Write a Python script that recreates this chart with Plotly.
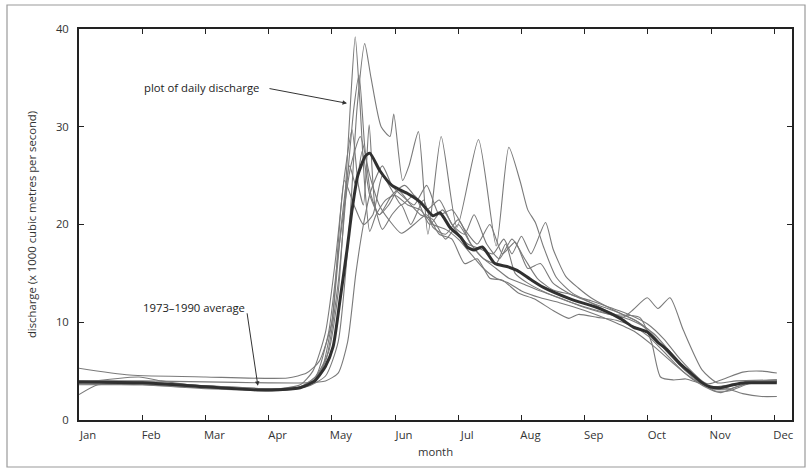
import plotly.graph_objects as go

# month axis: 0 = 1 Jan, 1 = 1 Feb, ... 11 = 1 Dec
month_labels = ["Jan", "Feb", "Mar", "Apr", "May", "Jun", "Jul", "Aug", "Sep", "Oct", "Nov", "Dec"]
month_ticks = [0, 1, 2, 3, 4, 5, 6, 7, 8, 9, 10, 11]
y_ticks = [0, 10, 20, 30, 40]

# individual years (discharge, x 1000 m3/s)
yr1_m = [0, 1, 2, 3, 3.5, 3.75, 3.95, 4.1, 4.22, 4.3, 4.37, 4.44, 4.52, 4.6, 4.7, 4.85, 5.0, 5.2, 5.4, 5.6, 5.8, 6.0, 6.2, 6.4, 6.6, 6.8, 7.0, 7.3, 7.6, 8.0, 8.4, 8.8, 9.1, 9.4, 9.7, 10.0, 10.3, 10.6, 11.04]
yr1_q = [3.7, 3.6, 3.2, 3.1, 3.4, 4.5, 7, 13, 24, 33, 39.2, 33, 24, 19.3, 21, 22.5, 23, 22, 21.5, 20, 19.5, 18.5, 17, 15.5, 14.5, 14, 13.2, 12.5, 12, 11.2, 10.2, 9, 7.5, 5.8, 4.2, 3.4, 3.6, 3.9, 4.0]

yr2_m = [0, 1, 2, 3, 3.6, 3.9, 4.1, 4.28, 4.4, 4.52, 4.62, 4.78, 4.92, 4.98, 5.12, 5.22, 5.37, 5.52, 5.73, 5.98, 6.32, 6.6, 6.8, 6.98, 7.1, 7.22, 7.35, 7.55, 7.8, 8.1, 8.4, 8.7, 9.0, 9.3, 9.7, 10.0, 10.3, 10.6, 11.04]
yr2_q = [4.0, 3.9, 3.5, 3.2, 3.4, 4.5, 8, 20, 32, 38.5, 35, 30, 29, 31.3, 24.5, 26, 29.5, 19, 29, 19.7, 28.7, 17.8, 27.9, 24.4, 21.5, 20.2, 17.7, 14.6, 13, 12, 11, 10.3, 9.3, 7, 4.5, 3.2, 3.2, 3.8, 4.0]

yr3_m = [0, 1, 2, 3, 3.5, 3.7, 3.9, 4.1, 4.25, 4.35, 4.43, 4.52, 4.62, 4.75, 4.9, 5.05, 5.25, 5.4, 5.6, 5.8, 6.0, 6.2, 6.4, 6.6, 6.75, 6.9, 7.1, 7.4, 7.8, 8.2, 8.6, 8.77, 8.99, 9.16, 9.35, 9.56, 9.86, 10.1, 10.4, 11.04]
yr3_q = [3.6, 3.6, 3.3, 3.0, 3.3, 4, 6, 14, 25, 32, 35.3, 28, 23, 21, 22, 23.5, 22, 21, 20.5, 18.5, 20, 18, 16.5, 16, 18, 15, 14, 13, 12, 11.2, 10.5, 11.3, 12.5, 11.4, 12.5, 9.2, 5.1, 3.8, 4.0, 4.1]

yr4_m = [0, 0.3, 1, 2, 3, 3.5, 3.7, 3.9, 4.05, 4.2, 4.32, 4.42, 4.5, 4.59, 4.68, 4.8, 4.95, 5.1, 5.25, 5.45, 5.6, 5.8, 6.0, 6.2, 6.4, 6.6, 6.8, 7.0, 7.3, 7.6, 8.0, 8.4, 8.87, 9.06, 9.2, 9.4, 9.6, 9.8, 10.0, 10.2, 10.5, 10.8, 11.04]
yr4_q = [2.6, 3.6, 3.7, 3.3, 3.1, 3.6, 5, 9, 16, 25, 29.7, 24, 22, 30.2, 22, 19.5, 21, 22, 20, 22.5, 19.7, 19, 20.5, 18, 16.5, 15.5, 14.5, 14, 13.2, 12.5, 11.5, 10.8, 10.5, 7.9, 4.4, 4.1, 4.2, 3.8, 3.4, 3.3, 2.7, 2.4, 2.4]

yr5_m = [0, 0.8, 2, 3.3, 3.6, 3.8, 4.0, 4.1, 4.2, 4.35, 4.5, 4.65, 4.8, 4.95, 5.1, 5.3, 5.5, 5.7, 5.9, 6.1, 6.25, 6.45, 6.65, 6.85, 7.05, 7.25, 7.5, 7.8, 8.1, 8.45, 8.8, 9.1, 9.35, 9.65, 9.95, 10.2, 10.5, 10.8, 11.04]
yr5_q = [5.3, 4.6, 4.4, 4.3, 4.8, 6, 10, 18, 24.5, 22, 20, 21, 25, 23.5, 22, 23, 21.5, 22.5, 20, 19, 21, 18, 16.5, 18.5, 16.5, 14.5, 13.3, 12.8, 12, 11.2, 10.2, 8.8, 7, 5, 3.7, 4.2, 4.9, 5.0, 4.8]

yr6_m = [0, 1, 2, 3, 3.6, 3.9, 4.1, 4.25, 4.38, 4.5, 4.62, 4.8, 4.95, 5.1, 5.3, 5.5, 5.7, 5.9, 6.1, 6.3, 6.5, 6.7, 6.9, 7.1, 7.3, 7.5, 7.8, 8.1, 8.4, 8.7, 9.0, 9.25, 9.5, 9.8, 10.05, 10.3, 10.6, 11.04]
yr6_q = [4.0, 4.0, 3.9, 3.8, 3.8, 4.0, 4.8, 8, 15, 20, 23.5, 26, 24, 23, 22, 24, 21, 21.5, 19.5, 18, 20, 17, 18.2, 15.5, 16, 14, 12.8, 12.2, 11.5, 10.8, 9.8, 8.3, 6.3, 4.3, 3.0, 3.0, 3.7, 3.9]

yr7_m = [0, 0.95, 1.3, 2, 3, 3.5, 3.75, 3.95, 4.12, 4.3, 4.45, 4.6, 4.75, 4.9, 5.1, 5.3, 5.5, 5.7, 5.9, 6.1, 6.3, 6.5, 6.7, 6.95, 7.2, 7.5, 7.75, 7.9, 8.2, 8.5, 8.8, 9.0, 9.25, 9.55, 9.9, 10.15, 10.4, 10.7, 11.04]
yr7_q = [3.8, 4.4, 4.0, 3.4, 3.0, 3.3, 4.5, 9, 18, 26, 29, 25, 22, 20.5, 19.1, 20, 21, 19, 18.5, 16, 16.5, 14.5, 14.3, 13, 12.4, 11.2, 10.4, 10.8, 10.5, 10.2, 9.5, 8.6, 7, 5, 3.4, 2.8, 3.4, 3.9, 4.0]

yr8_m = [0, 1, 2, 3, 3.5, 3.8, 4.0, 4.15, 4.28, 4.38, 4.48, 4.6, 4.75, 4.95, 5.15, 5.35, 5.55, 5.75, 5.95, 6.15, 6.35, 6.55, 6.72, 6.85, 7.0, 7.15, 7.38, 7.5, 7.7, 7.9, 8.1, 8.35, 8.6, 8.85, 9.05, 9.3, 9.6, 9.9, 10.2, 10.5, 11.04]
yr8_q = [3.9, 3.8, 3.5, 3.2, 3.4, 4.5, 10, 20, 26, 24, 27.5, 23, 21, 23, 24, 22.5, 20, 21.5, 19.5, 18, 17.5, 17, 18.5, 17, 18.8, 17, 20.2, 17.5, 14.7, 13.5, 12.5, 11.6, 10.8, 10, 8.8, 7, 5, 3.5, 3.3, 3.8, 4.1]

# 1973-1990 average
avg_m = [0, 1, 2, 2.83, 3.16, 3.5, 3.73, 3.9, 4.02, 4.13, 4.24, 4.32, 4.41, 4.53, 4.6, 4.76, 4.95, 5.19, 5.4, 5.6, 5.71, 5.87, 6.05, 6.14, 6.25, 6.38, 6.58, 6.77, 6.93, 7.14, 7.34, 7.77, 8.24, 8.56, 8.77, 8.99, 9.15, 9.3, 9.5, 9.68, 9.84, 9.98, 10.14, 10.35, 10.54, 11.04]
avg_q = [3.9, 3.8, 3.4, 3.07, 3.1, 3.3, 4.0, 5.5, 7.5, 12.3, 17.4, 21.5, 25, 27, 27.3, 25.5, 24, 23.2, 22.3, 20.9, 21.2, 19.7, 18.6, 17.7, 17.4, 17.7, 16, 15.7, 15.3, 14.4, 13.6, 12.4, 11.4, 10.4, 9.5, 9.0, 8.0, 7.2, 5.8, 4.8, 3.9, 3.4, 3.3, 3.6, 3.8, 3.8]

years = [(yr1_m, yr1_q), (yr2_m, yr2_q), (yr3_m, yr3_q), (yr4_m, yr4_q),
         (yr5_m, yr5_q), (yr6_m, yr6_q), (yr7_m, yr7_q), (yr8_m, yr8_q)]

FONT = "Open Sans"
FS = 11.3
fig = go.Figure()
for xm, yq in years:
    fig.add_trace(go.Scatter(x=xm, y=yq, mode="lines",
                             line=dict(color="#7a7a7a", width=1.1, shape="spline", smoothing=0.6),
                             showlegend=False, hoverinfo="skip"))
fig.add_trace(go.Scatter(x=avg_m, y=avg_q, mode="lines",
                         line=dict(color="#303030", width=3, shape="spline", smoothing=0.6),
                         showlegend=False, hoverinfo="skip"))

W, H = 810, 471
L, R, T, B = 79, 18, 29, 51
pw, ph = W - L - R, H - T - B
# outer frame around the whole figure
fig.add_shape(type="rect", xref="paper", yref="paper",
              x0=(7 - L) / pw, x1=(805 - L) / pw,
              y0=(H - B - 467) / ph, y1=(H - B - 5) / ph,
              line=dict(color="#9a9a9a", width=1.2), fillcolor="rgba(0,0,0,0)")

# annotations
fig.add_annotation(x=4.24, y=32.4, text="", showarrow=True, ax=-79, ay=-15,
                   arrowhead=2, arrowsize=0.9, arrowwidth=1, arrowcolor="#333")
fig.add_annotation(xref="paper", yref="paper", x=(142 - L) / pw, y=(H - B - 87) / ph,
                   text="plot of daily discharge", showarrow=False, xanchor="left", yanchor="middle",
                   font=dict(family=FONT, size=FS, color="#222"))
fig.add_annotation(x=2.83, y=3.5, text="", showarrow=True, ax=-11, ay=-74,
                   arrowhead=2, arrowsize=0.9, arrowwidth=1, arrowcolor="#333")
fig.add_annotation(xref="paper", yref="paper", x=(141 - L) / pw, y=(H - B - 307) / ph,
                   text="1973\u20131990 average", showarrow=False, xanchor="left", yanchor="middle",
                   font=dict(family=FONT, size=FS, color="#222"))

axis_common = dict(showline=True, linecolor="#222", linewidth=1.8, mirror="ticks",
                   ticks="inside", ticklen=5, tickwidth=1, tickcolor="#222",
                   showgrid=False, zeroline=False,
                   tickfont=dict(family=FONT, size=FS, color="#333"))

fig.update_xaxes(range=[0, 11.28], tickvals=month_ticks, ticktext=month_labels,
                 ticklabelshift=9, ticklabelstandoff=4,
                 title=dict(text="month", standoff=7, font=dict(family=FONT, size=FS, color="#333")),
                 **axis_common)
fig.update_yaxes(range=[0, 40], tickvals=y_ticks, ticklabelstandoff=6,
                 title=dict(text="discharge (x 1000 cubic metres per second)", standoff=17,
                            font=dict(family=FONT, size=FS, color="#333")),
                 **axis_common)

fig.update_layout(width=W, height=H, margin=dict(l=L, r=R, t=T, b=B),
                  paper_bgcolor="white", plot_bgcolor="white", showlegend=False)

fig.write_html("out.html")
